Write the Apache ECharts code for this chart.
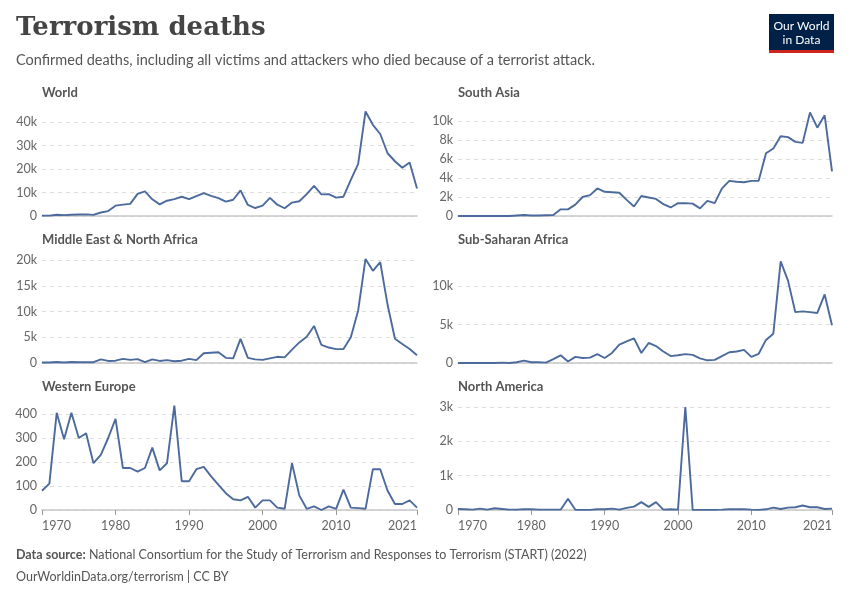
<!DOCTYPE html>
<html><head><meta charset="utf-8">
<script src="https://cdn.jsdelivr.net/npm/echarts@6/dist/echarts.min.js"></script>
<style>html,body{margin:0;padding:0;background:#fff}#c{width:850px;height:600px}</style>
</head><body><div id="c"></div>
<script>
const years = [];
for (let y = 1970; y <= 2021; y++) years.push(y);
const xTicks = [1970,1980,1990,2000,2010,2021];
const world = [170,170,550,370,540,650,680,460,1500,2100,4400,4850,5150,9400,10450,7100,4950,6500,7200,8200,7150,8500,9700,8600,7600,6100,6900,10900,4700,3400,4400,7700,4800,3300,5700,6300,9300,12800,9200,9300,7800,8200,15400,22200,44500,38800,34900,26700,23300,20500,22800,11700];
const southAsia = [0,0,0,0,0,0,0,0,50,100,60,60,80,100,700,700,1200,2000,2200,2900,2550,2500,2450,1700,1000,2100,1950,1800,1250,900,1350,1350,1300,800,1600,1350,2900,3700,3600,3550,3700,3700,6600,7100,8400,8300,7800,7700,10900,9300,10600,4700];
const mena = [100,100,200,100,200,150,150,150,700,400,450,800,600,750,150,700,400,550,350,450,800,550,1900,2000,2100,1000,900,4700,1000,700,600,900,1200,1100,2600,4000,5100,7200,3500,3000,2700,2700,5000,10200,20200,17900,19600,11300,4700,3700,2700,1500];
const ssa = [0,0,0,0,0,0,50,0,100,300,100,100,50,500,1000,200,800,650,700,1150,650,1300,2400,2800,3200,1300,2600,2200,1500,900,1000,1150,1050,600,350,400,900,1400,1500,1700,800,1200,3000,3800,13200,10700,6600,6700,6600,6500,8900,4900];
const westEurope = [80,110,405,295,405,300,320,195,230,300,380,175,175,160,175,260,165,195,435,120,120,170,180,140,105,70,45,40,55,10,40,40,10,5,195,60,5,15,0,15,5,85,10,8,5,170,170,80,25,25,40,10];
const northAmerica = [30,20,10,40,10,50,30,10,10,20,20,10,10,10,10,330,5,5,5,20,20,40,10,60,100,230,90,230,10,20,10,3000,5,5,5,5,10,20,20,20,10,5,20,70,30,70,80,130,80,80,30,40];
const panelTitles = ['World','South Asia','Middle East & North Africa','Sub-Saharan Africa','Western Europe','North America'];
const yMax = [40000,10000,20000,10000,400,3000];
const yInt = [10000,2000,5000,5000,100,1000];
const seriesData = [world,southAsia,mena,ssa,westEurope,northAmerica];

const grids = [
  {left:42,width:375,top:122,bottom:384},
  {left:458,width:374,top:121,bottom:384},
  {left:42,width:375,top:260,bottom:237},
  {left:458,width:374,top:286,bottom:237},
  {left:42,width:375,top:414,bottom:90},
  {left:458,width:374,top:407,bottom:90}
];
const fmt = v => v >= 1000 ? (v/1000)+'k' : String(v);
const xAxes = grids.map((g,i)=>({
  type:'value', gridIndex:i, min:1970, max:2021,
  axisLine:{onZero:false, lineStyle:{color:'#c8c8c8',width:1.5}},
  axisTick:{show:i>=4, customValues:xTicks, lineStyle:{color:'#999'}, length:5},
  axisLabel:{show:i>=4, customValues:xTicks, alignMinLabel:'left', alignMaxLabel:'right', color:'#666', fontSize:12.5, fontFamily:'Lato', margin:9, formatter:v=>String(v)},
  splitLine:{show:false}
}));
const yAxes = grids.map((g,i)=>({
  type:'value', gridIndex:i, min:0, max:yMax[i], interval:yInt[i],
  axisLine:{show:false}, axisTick:{show:false},
  axisLabel:{color:'#666', fontSize:12.5, fontFamily:'Lato', formatter:fmt, margin:5},
  splitLine:{lineStyle:{color:'#ddd', type:[4,4]}}
}));
const series = seriesData.map((d,i)=>({
  type:'line', xAxisIndex:i, yAxisIndex:i, data:d.map((v,k)=>[years[k],v]), showSymbol:false, clip:false,
  lineStyle:{color:'#4C6A9C', width:1.9}, itemStyle:{color:'#4C6A9C'}
}));
const titlePos = [[42,86],[458,86],[42,233],[458,233],[42,380],[458,380]];
const graphic = panelTitles.map((t,i)=>({type:'text', left:titlePos[i][0], top:titlePos[i][1],
  style:{text:t, fill:'#555', font:'bold 13px Lato'}}));
graphic.push(
  {type:'text', left:16, top:15, style:{text:'Terrorism deaths', fill:'#444', font:'bold 26px "DejaVu Serif"'}},
  {type:'text', left:16, top:53, style:{text:'Confirmed deaths, including all victims and attackers who died because of a terrorist attack.', fill:'#555', font:'14.5px Lato'}},
  {type:'rect', left:769, top:14, shape:{width:65,height:38}, style:{fill:'#002147'}},
  {type:'rect', left:769, top:50, shape:{width:65,height:3}, style:{fill:'#ce261e'}},
  {type:'text', x:801.5, y:19, style:{text:'Our World\nin Data', fill:'#fff', font:'12px Lato', align:'center', lineHeight:14}},
  {type:'text', left:16, top:548, style:{rich:{b:{font:'bold 12.5px Lato',fill:'#555'},n:{font:'12.5px Lato',fill:'#555'}}, text:'{b|Data source:} {n|National Consortium for the Study of Terrorism and Responses to Terrorism (START) (2022)}'}},
  {type:'text', left:16, top:570, style:{text:'OurWorldinData.org/terrorism | CC BY', fill:'#555', font:'12.5px Lato'}}
);
const chart = echarts.init(document.getElementById('c'));
chart.setOption({animation:false, grid:grids, xAxis:xAxes, yAxis:yAxes, series, graphic});
</script></body></html>
